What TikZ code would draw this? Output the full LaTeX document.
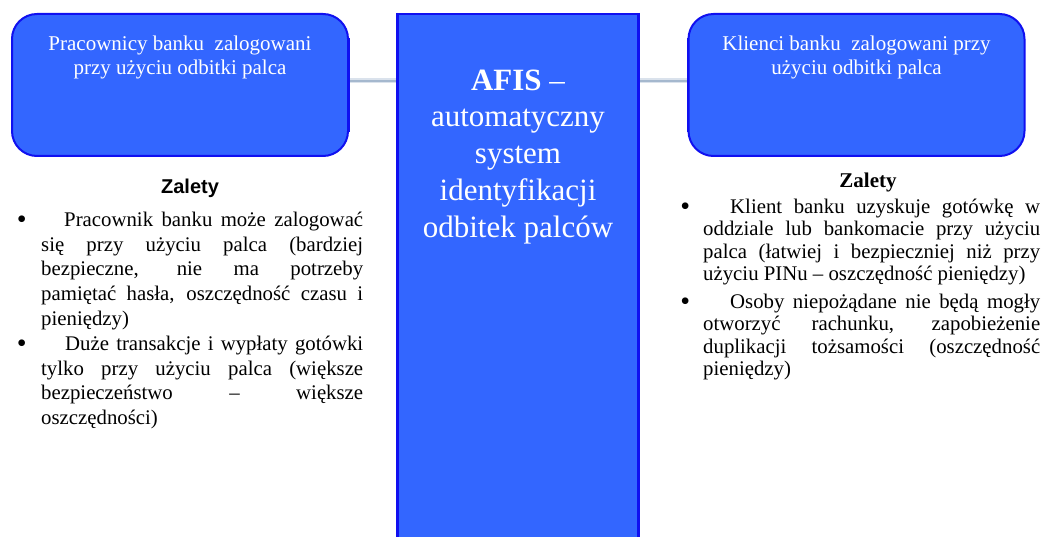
\documentclass[tikz,border=0pt]{standalone}
\usepackage{fontspec}
\setmainfont{Liberation Serif}
\newfontfamily\arialf{Liberation Sans}
\definecolor{boxfill}{RGB}{51,102,255}
\definecolor{boxdraw}{RGB}{16,16,240}
\definecolor{connc}{RGB}{165,184,206}
\definecolor{connh}{RGB}{218,226,236}
\newcommand\firstht[1]{\rule{0pt}{#1}}
\newcommand\bigbul[1]{\llap{\raisebox{-2.6pt}{\fontsize{28}{24}\selectfont\textbullet}\hspace{#1}}}
\begin{document}
\begin{tikzpicture}[x=1pt,y=-1pt,
  roundbox/.style={draw=boxdraw, fill=boxfill, line width=2pt, rounded corners=25pt,
    minimum width=336pt, minimum height=142pt, inner sep=0pt},
  centerbox/.style={draw=boxdraw, fill=boxfill, line width=2pt,
    minimum width=240pt, minimum height=546pt, inner sep=0pt},
  boxtext/.style={text=white, align=center, font=\fontsize{21}{24}\selectfont, inner sep=0pt, anchor=north},
  afistext/.style={text=white, align=center, font=\fontsize{31}{36.7}\selectfont, inner sep=0pt, anchor=north},
  bodyleft/.style={align=left, inner sep=0pt, font=\fontsize{20.8}{24.8}\selectfont, anchor=north west},
  bodyright/.style={align=left, inner sep=0pt, font=\fontsize{20.8}{22.5}\selectfont, anchor=north west},
  halo/.style={draw=connh, line width=5pt},
  conn/.style={draw=connc, line width=2pt}
]
\useasboundingbox (0,0) rectangle (1056,537);
\clip (0,0) rectangle (1056,537);
\fill[white] (0,0) rectangle (1056,537);

% shapes
\node[roundbox] (lbox) at (180,85) {};
\node[roundbox] (rbox) at (856.5,85) {};
\node[centerbox] (afis) at (518,287) {};

% connectors
\path[halo] ([yshift=4.3pt]lbox.east) -- ([yshift=4.3pt]lbox.east -| afis.west);
\path[conn] ([yshift=4.3pt]lbox.east) -- ([yshift=4.3pt]lbox.east -| afis.west);
\path[halo] ([yshift=4.3pt]rbox.west) -- ([yshift=4.3pt]rbox.west -| afis.east);
\path[conn] ([yshift=4.3pt]rbox.west) -- ([yshift=4.3pt]rbox.west -| afis.east);
% redraw borders over line ends
\draw[boxdraw, line width=2pt] (lbox.north east) ++(0,25) -- ([yshift=25pt]lbox.south east);
\draw[boxdraw, line width=2pt] (rbox.north west) ++(0,25) -- ([yshift=25pt]rbox.south west);
\draw[boxdraw, line width=2pt] (afis.north west) -- (afis.south west);
\draw[boxdraw, line width=2pt] (afis.north east) -- (afis.south east);

% texts in boxes
\node[boxtext] (ltext) at (180,34) {\firstht{16pt}Pracownicy banku \ zalogowani\\przy użyciu odbitki palca};
\node[boxtext] (rtext) at (856.5,34) {\firstht{16pt}Klienci banku \ zalogowani przy\\użyciu odbitki palca};
\node[afistext] (atext) at (518,66) {\firstht{24pt}\textbf{AFIS} –\\automatyczny\\system\\identyfikacji\\odbitek palców};

% headings
\node[inner sep=0pt, anchor=base, font=\arialf\bfseries\fontsize{20}{24}\selectfont] (lhead) at (190,194) {Zalety};
\node[inner sep=0pt, anchor=base, font=\bfseries\fontsize{21}{24}\selectfont] (rhead) at (868,188) {Zalety};

% left list
\node[bodyleft] (llist) at (41,210) {%
\firstht{16pt}\bigbul{14.5pt}\hspace*{23pt}\makebox[299pt][s]{Pracownik banku może zalogować}\\
\makebox[322pt][s]{się przy użyciu palca (bardziej}\\
\makebox[322pt][s]{bezpieczne, nie ma potrzeby}\\
\makebox[322pt][s]{pamiętać hasła, oszczędność czasu i}\\
pieniędzy)\\
\bigbul{14.5pt}\hspace*{24pt}\makebox[298pt][s]{Duże transakcje i wypłaty gotówki}\\
\makebox[322pt][s]{tylko przy użyciu palca (większe}\\
\makebox[322pt][s]{bezpieczeństwo – większe}\\
oszczędności)};

% right list
\node[bodyright] (rlist) at (703,197) {%
\firstht{16pt}\bigbul{13pt}\hspace*{27pt}\makebox[310pt][s]{Klient banku uzyskuje gotówkę w}\\
\makebox[337pt][s]{oddziale lub bankomacie przy użyciu}\\
\makebox[337pt][s]{palca (łatwiej i bezpieczniej niż przy}\\
użyciu PINu – oszczędność pieniędzy)\\[5pt]
\bigbul{13pt}\hspace*{27pt}\makebox[310pt][s]{Osoby niepożądane nie będą mogły}\\
\makebox[337pt][s]{otworzyć rachunku, zapobieżenie}\\
\makebox[337pt][s]{duplikacji tożsamości (oszczędność}\\
pieniędzy)};
\end{tikzpicture}
\end{document}
